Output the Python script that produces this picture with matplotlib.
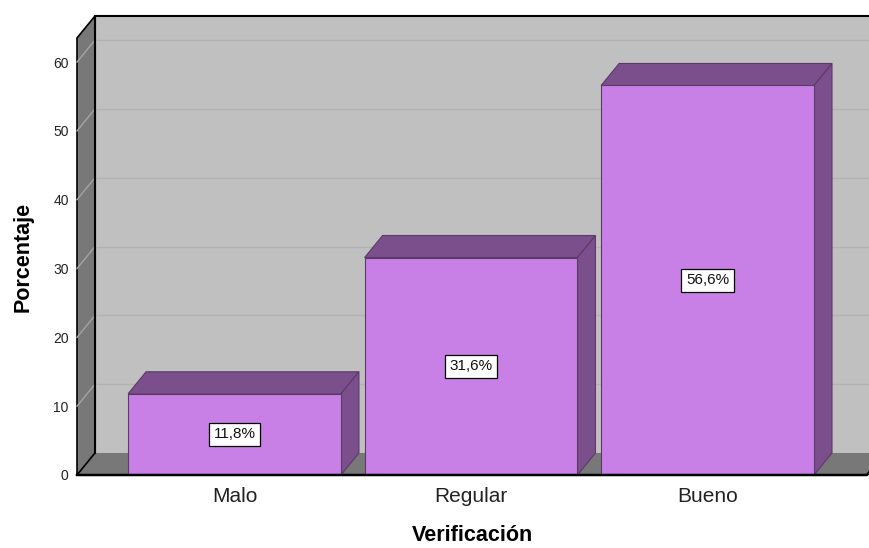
import matplotlib.pyplot as plt
from matplotlib.patches import Polygon, Rectangle

plt.rcParams['font.family'] = ['Liberation Sans', 'DejaVu Sans']

categorias = ['Malo', 'Regular', 'Bueno']
porcentajes = [11.8, 31.6, 56.6]
etiquetas = ['11,8%', '31,6%', '56,6%']
ticks_y = [0, 10, 20, 30, 40, 50, 60]

# colores estilo SPSS
c_frente = '#c980e6'
c_oscuro = '#7b4f8c'
c_borde = '#5b3a68'
c_pared = '#c0c0c0'
c_lado = '#787878'

xmin, xmax = -0.666, 2.674
ymin, ymax = 0, 63.5
ancho = 0.90
# profundidad del efecto 3D en unidades de datos
dx, dy = 0.076, 3.2

fig = plt.figure(figsize=(8.69, 5.48), dpi=100)
ax = fig.add_axes([77 / 869, 73 / 548, 790 / 869, 437 / 548])
ax.set_xlim(xmin, xmax)
ax.set_ylim(ymin, ymax)
for s in ax.spines.values():
    s.set_visible(False)

# pared de fondo
ax.add_patch(Rectangle((xmin + dx, dy), xmax - xmin, ymax, facecolor=c_pared,
                       edgecolor='none', zorder=1, clip_on=False))
ax.plot([xmin + dx, xmin + dx, xmax + dx], [dy, ymax + dy, ymax + dy],
        color='black', lw=1.5, zorder=2, clip_on=False)
for v in ticks_y[1:]:
    ax.plot([xmin + dx, xmax + dx], [v + dy, v + dy], color='#b2b2b2', lw=1,
            zorder=2, clip_on=False)

# suelo
ax.add_patch(Polygon([(xmin, 0), (xmax, 0), (xmax + dx, dy), (xmin + dx, dy)],
                     closed=True, facecolor=c_lado, edgecolor='none', zorder=3,
                     clip_on=False))
ax.plot([xmin, xmax, xmax + dx], [0, 0, dy], color='black', lw=1.8, zorder=8,
        clip_on=False)

# pared izquierda
ax.add_patch(Polygon([(xmin, 0), (xmin + dx, dy), (xmin + dx, ymax + dy), (xmin, ymax)],
                     closed=True, facecolor=c_lado, edgecolor='black', lw=1.2,
                     zorder=3, clip_on=False))
for v in ticks_y[1:]:
    ax.plot([xmin, xmin + dx], [v, v + dy], color='#a4a4a4', lw=1, zorder=4,
            clip_on=False)
ax.plot([xmin + dx, xmin + dx], [dy, ymax + dy], color='black', lw=1.5, zorder=4,
        clip_on=False)

# barras
pos = list(range(len(categorias)))
for x, v in zip(pos, porcentajes):
    izq, der = x - ancho / 2, x + ancho / 2
    ax.add_patch(Polygon([(izq, v), (der, v), (der + dx, v + dy), (izq + dx, v + dy)],
                         closed=True, facecolor=c_oscuro, edgecolor=c_borde, lw=0.8,
                         zorder=5, clip_on=False))
    ax.add_patch(Polygon([(der, 0), (der + dx, dy), (der + dx, v + dy), (der, v)],
                         closed=True, facecolor=c_oscuro, edgecolor=c_borde, lw=0.8,
                         zorder=5, clip_on=False))
ax.bar(pos, porcentajes, width=ancho, color=c_frente, edgecolor=c_borde, lw=0.8,
       zorder=6)

for x, v, t in zip(pos, porcentajes, etiquetas):
    ax.text(x, v / 2, t, ha='center', va='center', fontsize=11, zorder=9,
            color='#111111',
            bbox=dict(boxstyle='square,pad=0.3', facecolor='white',
                      edgecolor='black', lw=0.9))

ax.set_xticks(pos)
ax.set_xticklabels(categorias, fontsize=15, color='#222222')
ax.set_yticks(ticks_y)
ax.set_yticklabels([str(t) for t in ticks_y], fontsize=10, color='#222222')
ax.tick_params(axis='both', length=0)
ax.tick_params(axis='y', pad=6)
ax.tick_params(axis='x', pad=9)

ax.set_xlabel('Verificación', fontsize=15.5, fontweight='bold', labelpad=13)
ax.set_ylabel('Porcentaje', fontsize=15.5, fontweight='bold', labelpad=14)

fig.savefig('out.png', dpi=100)
